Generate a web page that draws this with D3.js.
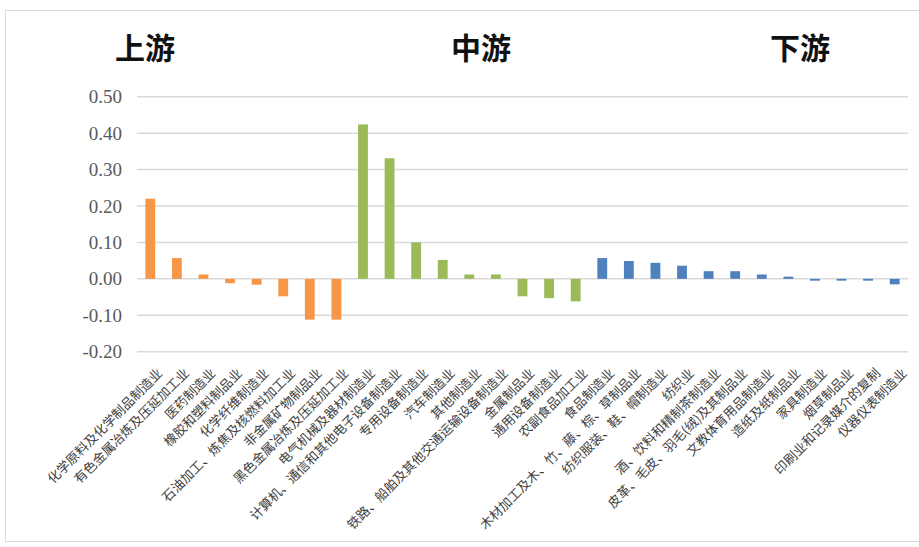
<!DOCTYPE html>
<html>
<head>
<meta charset="utf-8">
<script src="https://cdn.jsdelivr.net/npm/d3@7"></script>
<style>
  body { margin: 0; background: #fff; }
  .title { font-family: "Noto Sans CJK SC", sans-serif; font-weight: 700; font-size: 30px; fill: #111; }
  .ytick { font-family: "Liberation Serif", serif; font-size: 19px; fill: #595959; }
  .cat { font-family: "Noto Sans CJK SC", sans-serif; font-size: 13px; fill: #404040; }
</style>
</head>
<body>
<div id="chart"></div>
<script>
// industry groups and their values
const upstream = ["化学原料及化学制品制造业","有色金属冶炼及压延加工业","医药制造业","橡胶和塑料制品业",
  "化学纤维制造业","石油加工、炼焦及核燃料加工业","非金属矿物制品业","黑色金属冶炼及压延加工业"];
const upValues = [0.22, 0.057, 0.012, -0.012, -0.016, -0.048, -0.112, -0.112];

const midstream = ["电气机械及器材制造业","计算机、通信和其他电子设备制造业","专用设备制造业","汽车制造业",
  "其他制造业","铁路、船舶及其他交通运输设备制造业","金属制品业","通用设备制造业","农副食品加工业"];
const midValues = [0.424, 0.331, 0.10, 0.052, 0.012, 0.012, -0.048, -0.053, -0.062];

const downstream = ["食品制造业","木材加工及木、竹、藤、棕、草制品业","纺织服装、鞋、帽制造业","纺织业",
  "酒、饮料和精制茶制造业","皮革、毛皮、羽毛(绒)及其制品业","文教体育用品制造业","造纸及纸制品业",
  "家具制造业","烟草制品业","印刷业和记录媒介的复制","仪器仪表制造业"];
const downValues = [0.057, 0.049, 0.044, 0.036, 0.021, 0.021, 0.012, 0.006, -0.005, -0.005, -0.005, -0.015];

const yTicks = [0.5, 0.4, 0.3, 0.2, 0.1, 0, -0.1, -0.2];
const groupTitles = ["上游", "中游", "下游"];
const groupColours = ["#F79646", "#9BBB59", "#4F81BD"];

const width = 919, height = 547;

let rows = [];
[[upstream, upValues], [midstream, midValues], [downstream, downValues]].forEach(function(g, gi){
    g[0].forEach(function(name, i){
        rows.push({name: name, value: g[1][i], group: gi});
    });
});

const svg = d3.select("#chart").append("svg")
    .attr("width", width).attr("height", height);

svg.append("rect")
    .attr("x", 5.5).attr("y", 10.5)
    .attr("width", 920).attr("height", 531)
    .attr("fill", "none").attr("stroke", "#d9d9d9");

const x = d3.scaleBand()
    .domain(rows.map(d => d.name))
    .range([137, 908])
    .paddingInner(0.63)
    .paddingOuter(0.315);

const y = d3.scaleLinear().domain([-0.2, 0.5]).range([351.7, 96.7]);

// grid lines + tick labels
svg.append("g").selectAll("line")
    .data(yTicks).enter().append("line")
    .attr("x1", 137).attr("x2", 908)
    .attr("y1", d => y(d)).attr("y2", d => y(d))
    .attr("stroke", "#d9d9d9").attr("stroke-width", 1.5);

svg.append("g").selectAll("text")
    .data(yTicks).enter().append("text")
    .attr("class", "ytick")
    .attr("x", 122).attr("y", d => y(d))
    .attr("dy", "0.35em")
    .attr("text-anchor", "end")
    .text(d => d3.format(".2f")(d).replace("−", "-"));

// bars
svg.append("g").selectAll("rect")
    .data(rows).enter().append("rect")
    .attr("x", d => x(d.name))
    .attr("width", x.bandwidth())
    .attr("y", d => y(Math.max(0, d.value)))
    .attr("height", d => Math.abs(y(d.value) - y(0)))
    .attr("fill", d => groupColours[d.group]);

// rotated category labels
svg.append("g").selectAll("text")
    .data(rows).enter().append("text")
    .attr("class", "cat")
    .attr("text-anchor", "end")
    .attr("transform", function(d){
        let cx = x(d.name) + x.bandwidth() / 2;
        return "translate(" + (cx + 13) + ",374) rotate(-45)";
    })
    .text(d => d.name);

// group titles
const titleX = [145, 481, 800];
svg.append("g").selectAll("text")
    .data(groupTitles).enter().append("text")
    .attr("class", "title")
    .attr("x", (d, i) => titleX[i]).attr("y", 59)
    .attr("text-anchor", "middle")
    .text(d => d);
</script>
</body>
</html>
